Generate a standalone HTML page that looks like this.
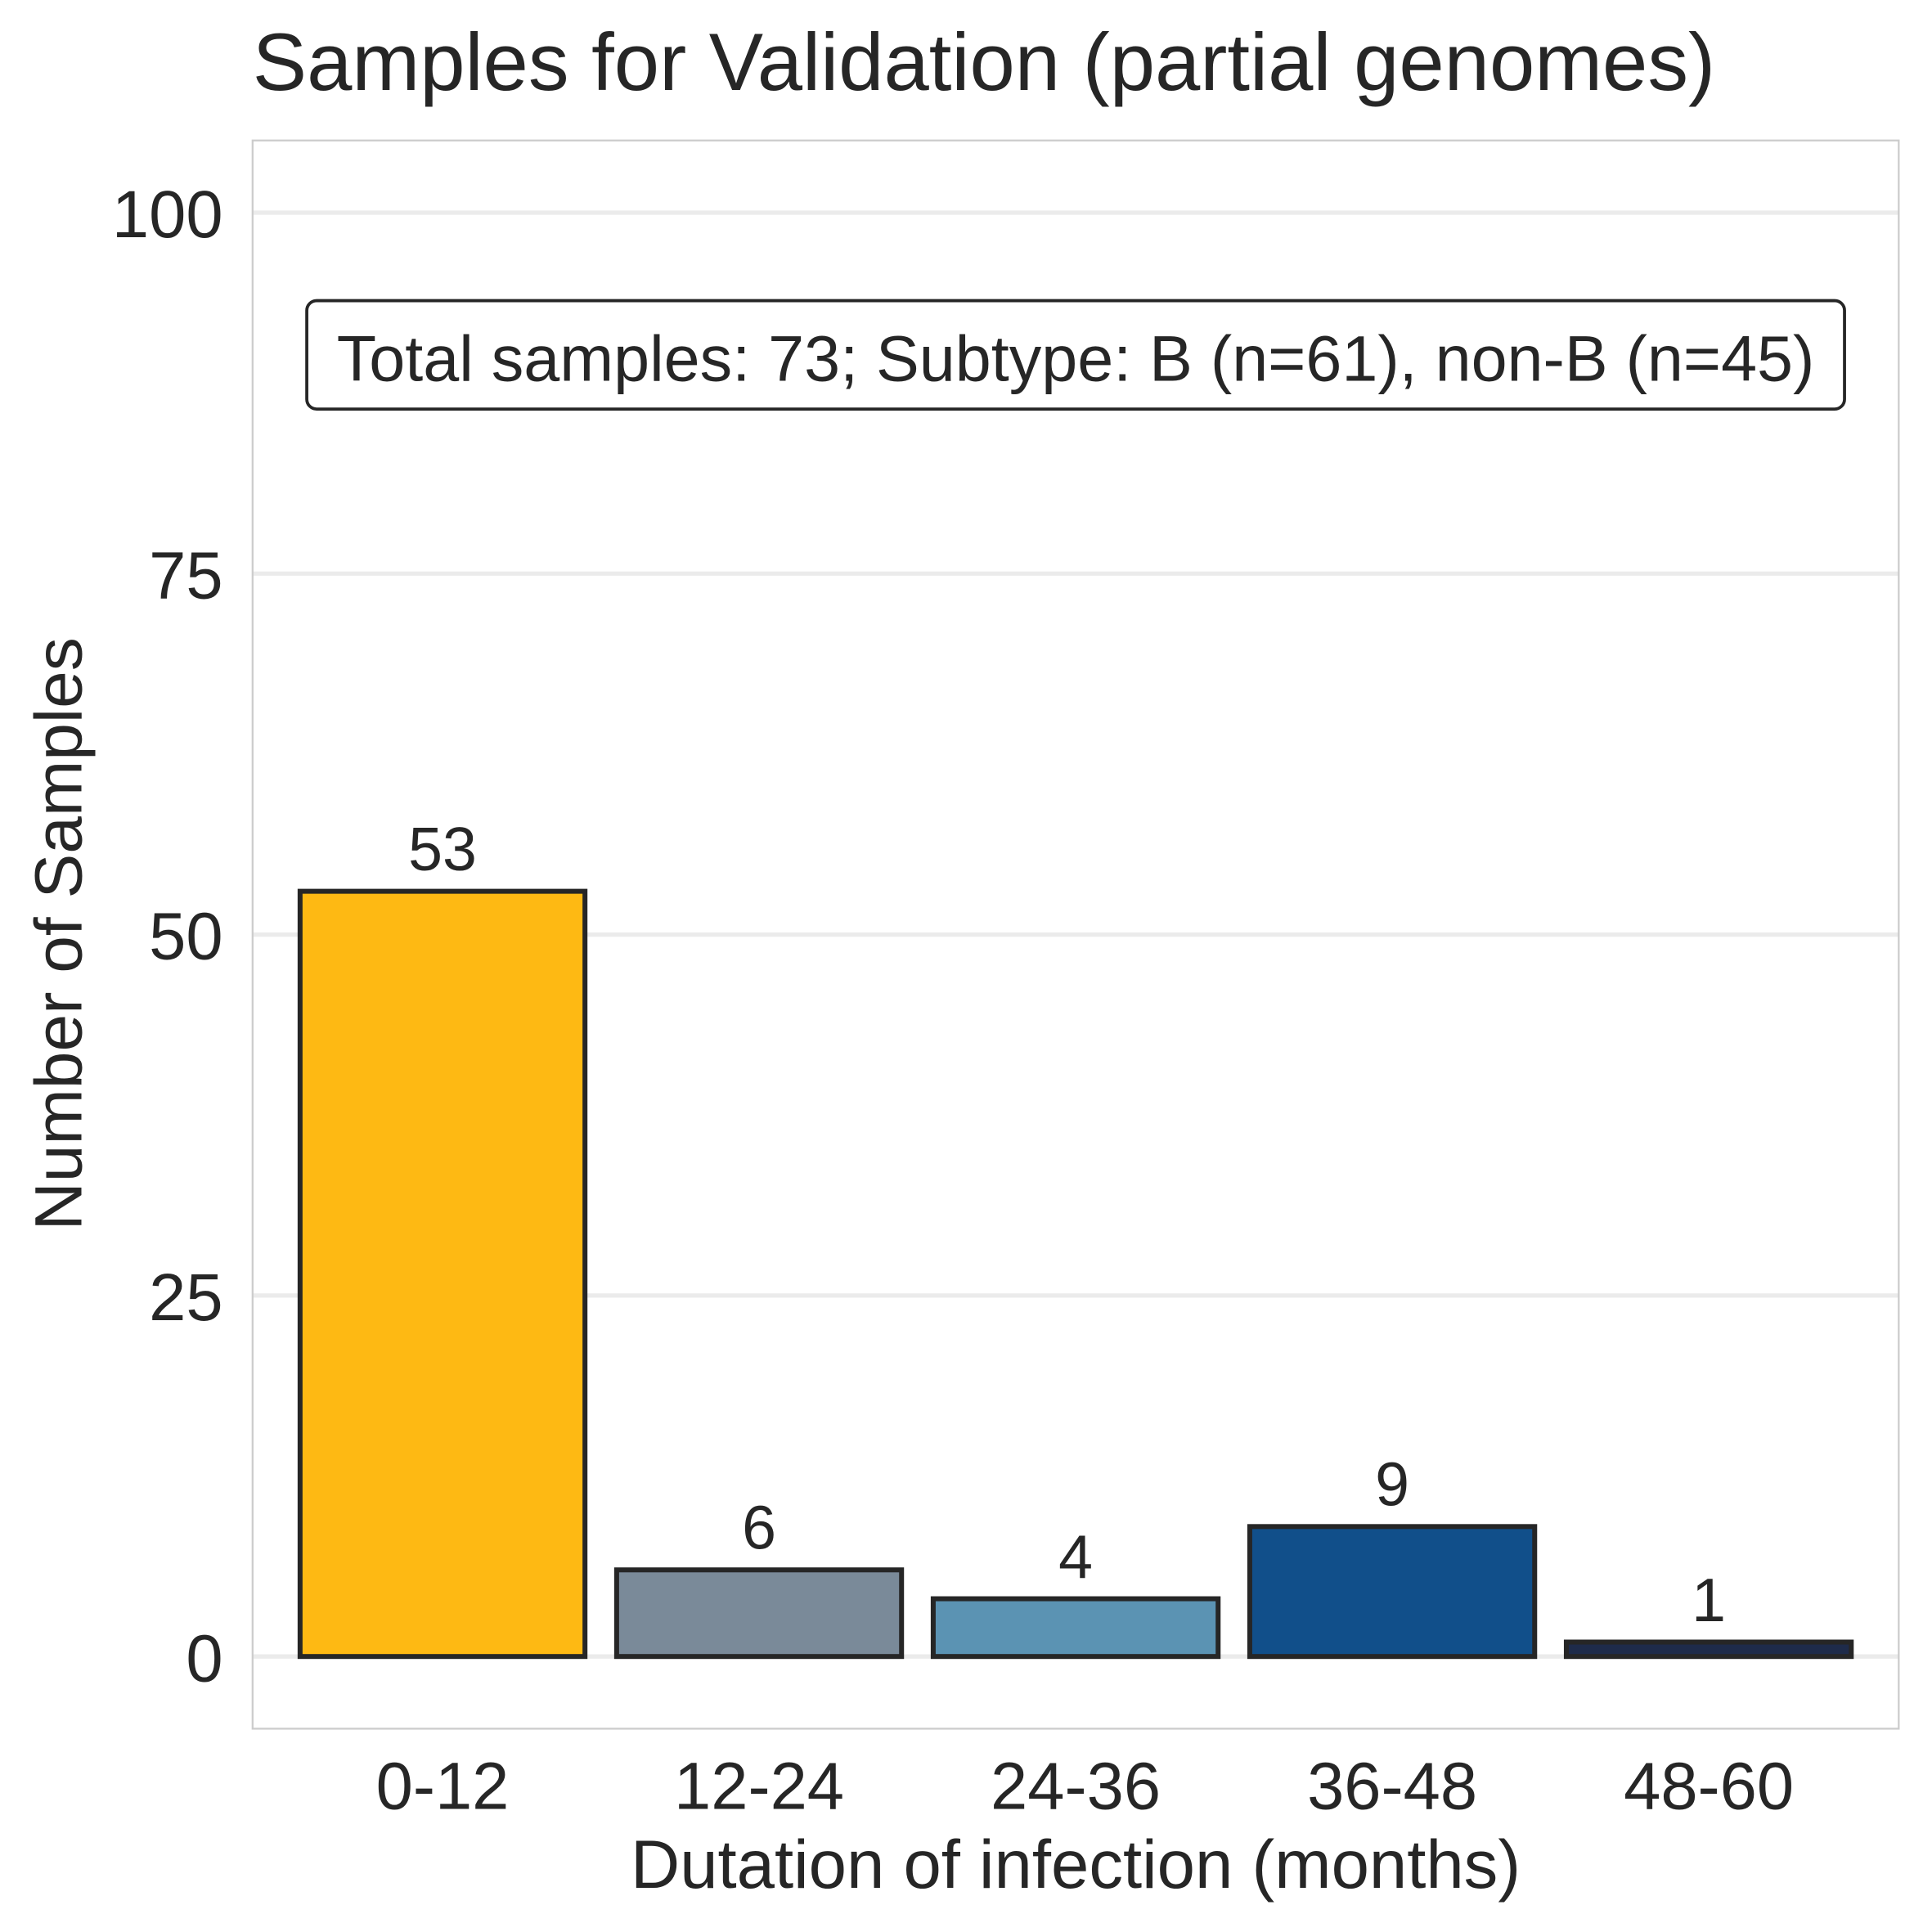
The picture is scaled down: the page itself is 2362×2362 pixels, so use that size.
<!DOCTYPE html>
<html><head><meta charset="utf-8"><style>
html,body{margin:0;padding:0;background:#fff;}
svg{display:block;font-family:"Liberation Sans",Arial,sans-serif;}
</style></head><body>
<svg id="chart" width="2362" height="2362" viewBox="0 0 1568 1568" xmlns="http://www.w3.org/2000/svg">
<rect x="0" y="0" width="1568" height="1568" fill="#fff"/>
<g id="grid"></g>
<rect x="205" y="114" width="1336" height="1289" fill="none" stroke="#cccccc" stroke-width="1.5"/>
<g id="bars"></g>
<g id="labels"></g>
<text x="205" y="73" font-size="66" fill="#262626">Samples for Validation (partial genomes)</text>
<text x="873" y="1532" font-size="55.3" fill="#262626" text-anchor="middle">Dutation of infection (months)</text>
<text transform="translate(66,758) rotate(-90)" font-size="54.5" fill="#262626" text-anchor="middle">Number of Samples</text>
<rect x="249" y="244" width="1248" height="88" rx="8" fill="#fff" stroke="#262626" stroke-width="2.5"/>
<text x="873" y="309" font-size="52.5" fill="#262626" text-anchor="middle">Total samples: 73; Subtype: B (n=61), non-B (n=45)</text>
</svg>
<script>
const categories = ["0-12","12-24","24-36","36-48","48-60"];
const values = [53, 6, 4, 9, 1];
const colors = ["#FEB913","#7A8A99","#5B93B3","#114F8A","#1E2B4A"];
const yTicks = [0, 25, 50, 75, 100];

const NS = "http://www.w3.org/2000/svg";
const plotL = 205, plotR = 1541, plotT = 114, plotB = 1403;
const yMin = -5, yMax = 105, xMin = -0.6, xMax = categories.length - 0.4;
function yScale(v){ return plotB - (v - yMin) / (yMax - yMin) * (plotB - plotT); }
function xScale(i){ return plotL + (i - xMin) / (xMax - xMin) * (plotR - plotL); }
function mk(tag, attrs){ const e = document.createElementNS(NS, tag); for (const k in attrs) e.setAttribute(k, attrs[k]); return e; }

const grid = document.getElementById('grid');
const labels = document.getElementById('labels');
const bars = document.getElementById('bars');

yTicks.forEach(t => {
  const y = yScale(t);
  const l = mk('line', {x1: plotL, x2: plotR, y1: y, y2: y, stroke: '#ebebeb', 'stroke-width': 3.5});
  
  
  grid.appendChild(l);
  const tx = mk('text', {x: 181, y: y + 20, 'font-size': 54, fill: '#262626', 'text-anchor': 'end'});
  tx.textContent = t;
  
  
  labels.appendChild(tx);
});

const bw = 0.9 * (xScale(1) - xScale(0));
categories.forEach((c, i) => {
  const cx = xScale(i);
  const y0 = yScale(0), y1 = yScale(values[i]);
  const r = mk('rect', {x: cx - bw/2, y: y1, width: bw, height: y0 - y1, fill: colors[i], stroke: '#262626', 'stroke-width': 4});
  
  
  bars.appendChild(r);
  const v = mk('text', {x: cx, y: y1 - 17, 'font-size': 50, fill: '#262626', 'text-anchor': 'middle'});
  v.textContent = values[i];
  
  
  labels.appendChild(v);
  const xl = mk('text', {x: cx, y: 1468, 'font-size': 54, fill: '#262626', 'text-anchor': 'middle'});
  xl.textContent = c;
  
  
  labels.appendChild(xl);
});
</script>
</body></html>
